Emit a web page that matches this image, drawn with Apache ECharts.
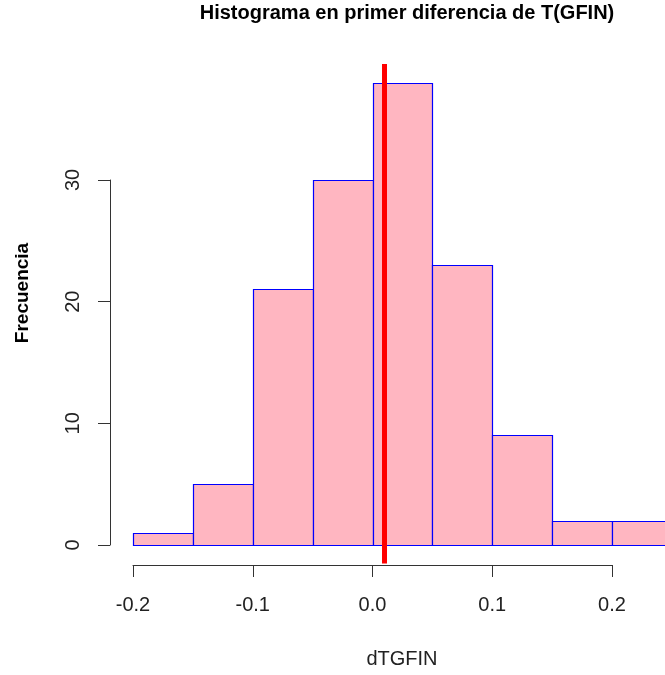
<!DOCTYPE html>
<html>
<head>
<meta charset="utf-8">
<script src="https://cdn.jsdelivr.net/npm/echarts@6/dist/echarts.min.js"></script>
<style>
html,body{margin:0;padding:0;background:#fff;}
#chart{width:665px;height:675px;}
</style>
</head>
<body>
<div id="chart"></div>
<script>
// ---- data ----
var breaks = [-0.2, -0.15, -0.1, -0.05, 0.0, 0.05, 0.1, 0.15, 0.2, 0.25];
var counts = [1, 5, 21, 30, 38, 23, 9, 2, 2];
var meanLine = 0.0113;
var xTicks = [-0.2, -0.1, 0.0, 0.1, 0.2];
var yTicks = [0, 10, 20, 30];
var titleText = 'Histograma en primer diferencia de T(GFIN)';
var xName = 'dTGFIN';
var yName = 'Frecuencia';

// ---- layout ----
var W = 665;
var x0px = 133, x02px = 612;           // pixel of -0.2 and 0.2
var pxPerUnitX = (x02px - x0px) / 0.4;
var xMaxVisible = breaks[0] + (W - x0px) / pxPerUnitX;
var font = 'Liberation Sans, Arial, sans-serif';

var binData = counts.map(function (c, i) { return [breaks[i], breaks[i + 1], c]; });

var chart = echarts.init(document.getElementById('chart'));
chart.setOption({
  backgroundColor: '#ffffff',
  animation: false,
  graphic: [
    { type: 'text', x: 407, y: 13,
      style: { text: titleText, font: 'bold 20px ' + font, fill: '#000', align: 'center', verticalAlign: 'middle' } },
    { type: 'text', x: 402, y: 659,
      style: { text: xName, font: '20px ' + font, fill: '#222', align: 'center', verticalAlign: 'middle' } },
    { type: 'text', x: 23, y: 293, rotation: Math.PI / 2,
      style: { text: yName, font: 'bold 19px ' + font, fill: '#000', align: 'center', verticalAlign: 'middle' } }
  ],
  grid: [
    { left: x0px, width: W - x0px, top: 64, height: 499.5 },
    { left: x0px, width: x02px - x0px, top: 564, height: 1 },
    { left: 110, width: 1, top: 180, height: 365 }
  ],
  xAxis: [
    { gridIndex: 0, type: 'value', min: breaks[0], max: xMaxVisible, show: false },
    { gridIndex: 1, type: 'value', min: xTicks[0], max: xTicks[xTicks.length - 1], interval: 0.1,
      position: 'bottom',
      axisLine: { show: true, lineStyle: { color: '#333', width: 1 } },
      axisTick: { show: true, length: 12, lineStyle: { color: '#333' } },
      splitLine: { show: false },
      axisLabel: { margin: 30, fontFamily: font, fontSize: 20, color: '#222',
        formatter: function (v) { return v.toFixed(1); } } },
    { gridIndex: 2, type: 'value', min: 0, max: 1, show: false }
  ],
  yAxis: [
    { gridIndex: 0, type: 'value', min: -1.52, max: 39.52, show: false },
    { gridIndex: 1, type: 'value', min: 0, max: 1, show: false },
    { gridIndex: 2, type: 'value', min: yTicks[0], max: yTicks[yTicks.length - 1], interval: 10,
      position: 'left',
      axisLine: { show: true, lineStyle: { color: '#333', width: 1 } },
      axisTick: { show: true, length: 12, lineStyle: { color: '#333' } },
      splitLine: { show: false },
      axisLabel: { margin: 27, rotate: 90, fontFamily: font, fontSize: 20, color: '#222' } }
  ],
  series: [
    {
      type: 'custom',
      xAxisIndex: 0, yAxisIndex: 0,
      data: binData,
      renderItem: function (params, api) {
        var p0 = api.coord([api.value(0), api.value(2)]);
        var p1 = api.coord([api.value(1), 0]);
        return {
          type: 'rect',
          shape: { x: Math.round(p0[0]) + 0.5, y: Math.round(p0[1]) + 0.5,
                   width: Math.round(p1[0]) - Math.round(p0[0]), height: Math.round(p1[1]) - Math.round(p0[1]) },
          style: { fill: '#FFB6C1', stroke: '#0000FF', lineWidth: 1.2 }
        };
      },
      markLine: {
        silent: true, symbol: 'none', label: { show: false },
        lineStyle: { color: '#FF0000', width: 5, type: 'solid' },
        data: [{ xAxis: meanLine }]
      }
    }
  ]
});
</script>
</body>
</html>
